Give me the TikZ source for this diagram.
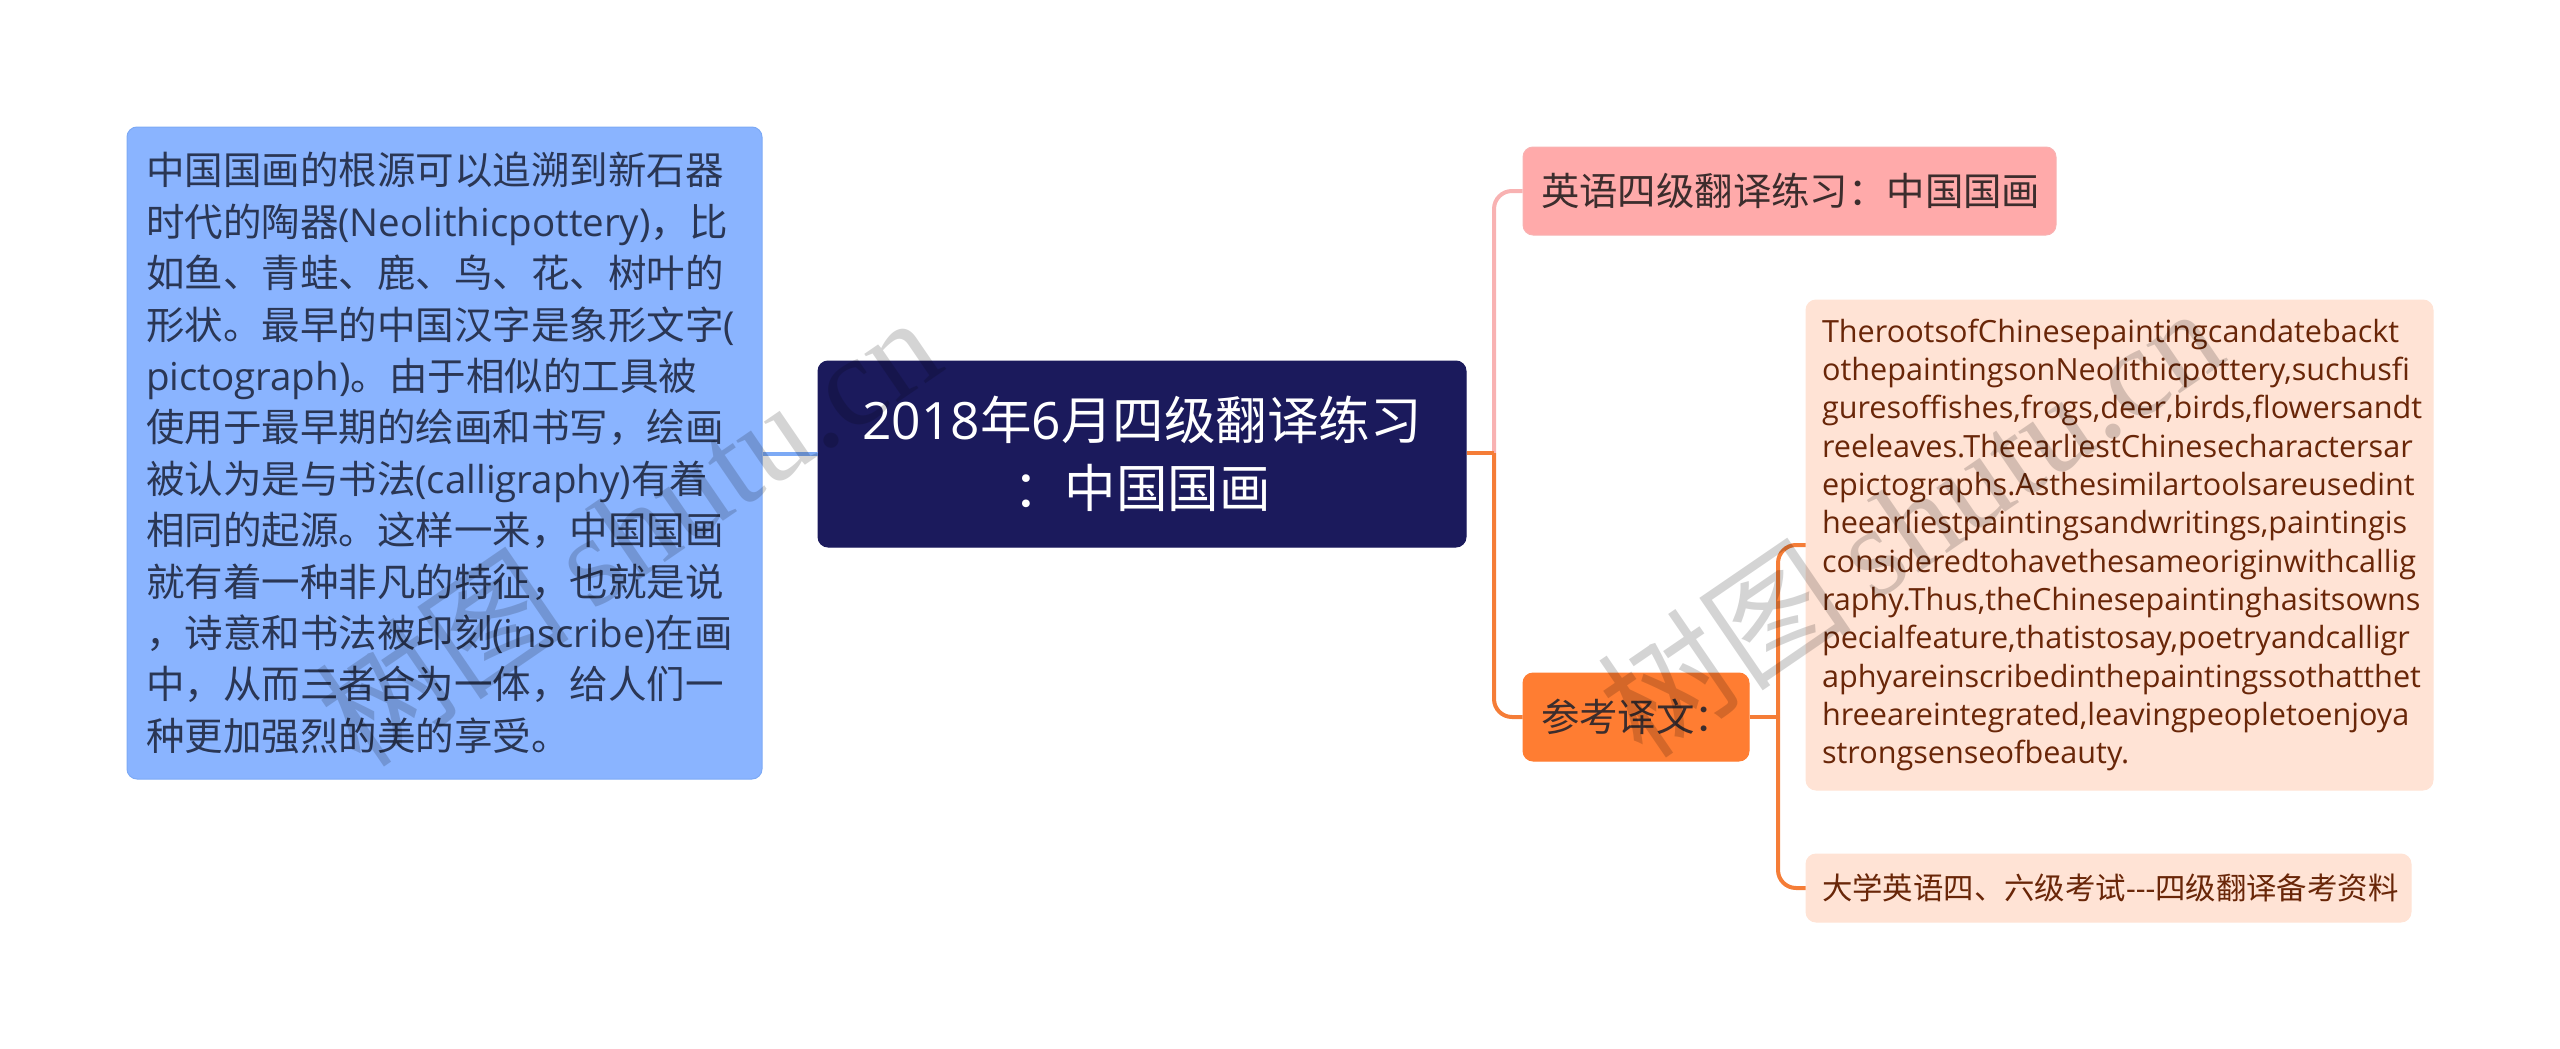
\documentclass[tikz,border=0pt]{standalone}
\usepackage{fontspec}
\usepackage{tikz}
\setmainfont{Noto Sans CJK SC}
\newfontfamily\latfont{Open Sans}
\newfontfamily\markfont{Liberation Serif}
\newcommand{\lat}[1]{{\latfont #1}}
\definecolor{leftfill}{RGB}{138,180,255}
\definecolor{leftline}{RGB}{125,170,245}
\definecolor{lefttext}{RGB}{42,54,84}
\definecolor{rootfill}{RGB}{27,26,92}
\definecolor{pinkfill}{RGB}{255,170,170}
\definecolor{pinkline}{RGB}{248,178,178}
\definecolor{orangefill}{RGB}{255,125,50}
\definecolor{orangeline}{RGB}{245,125,55}
\definecolor{peachfill}{RGB}{255,227,213}
\definecolor{peachtext}{RGB}{105,38,8}
\definecolor{darktext}{RGB}{60,45,45}
\newcommand{\watermark}[2]{\node[rotate=34.4,opacity=.17,text=black,font=\fontsize{128}{128}\selectfont] (#2) at (#1) {树图\hspace{25pt}{\markfont shutu.cn}};}
\tikzset{
  topic/.style={rectangle,rounded corners=10pt,draw=#1,line width=1pt,inner xsep=19pt,inner ysep=0pt,align=left},
  link/.style={line width=4pt,rounded corners=18pt}
}

\begin{document}
\begin{tikzpicture}[x=1pt,y=-1pt]
\useasboundingbox (0,0) rectangle (2560,1049);
\node[topic=leftline,fill=leftfill,text=lefttext,text width=597pt,minimum height=652pt,font=\fontsize{38.5}{51.4}\selectfont] (source) at (444.5,453) {中国国画的根源可以追溯到新石器\\
时代的陶器\lat{(Neolithicpottery)}，比\\
如鱼、青蛙、鹿、鸟、花、树叶的\\
形状。最早的中国汉字是象形文字\lat{(}\\
\lat{pictograph)}。由于相似的工具被\\
使用于最早期的绘画和书写，绘画\\
被认为是与书法\lat{(calligraphy)}有着\\
相同的起源。这样一来，中国国画\\
就有着一种非凡的特征，也就是说\\
，诗意和书法被印刻\lat{(inscribe)}在画\\
中，从而三者合为一体，给人们一\\
种更加强烈的美的享受。};
\node[topic=rootfill,fill=rootfill,text=white,text width=610pt,align=center,minimum height=186pt,font=\fontsize{51.5}{68}\selectfont] (root) at (1142,454) {\lat{2018}年\lat{6}月四级翻译练习\\：中国国画};
\node[topic=pinkline,fill=pinkfill,text=darktext,text width=497pt,minimum height=88pt,inner xsep=18pt,font=\fontsize{38.4}{51.4}\selectfont] (title) at (1789.5,191) {英语四级翻译练习：中国国画};
\node[topic=orangefill,fill=orangefill,text=darktext,text width=190pt,minimum height=88pt,inner xsep=18pt,font=\fontsize{38.4}{51.4}\selectfont] (answer) at (1636,717) {参考译文：};
\node[topic=peachfill,fill=peachfill,text=peachtext,inner xsep=16pt,text width=595pt,minimum height=490pt,font=\fontsize{30.6}{38.3}\selectfont\latfont] (english) at (2119.5,545) {Therootsof{}Chinesepaintingcandatebackt\\
othepaintingsonNeolithicpottery,suchusf{}i\\
guresof{}f{}ishes,frogs,deer,birds,f{}lowersandt\\
reeleaves.TheearliestChinesecharactersar\\
epictographs.Asthesimilartoolsareusedint\\
heearliestpaintingsandwritings,paintingis\\
consideredtohavethesameoriginwithcallig\\
raphy.Thus,theChinesepaintinghasitsowns\\
pecialfeature,thatistosay,poetryandcalligr\\
aphyareinscribedinthepaintingssothatthet\\
hreeareintegrated,leavingpeopletoenjoya\\
strongsenseofbeauty.};
\node[topic=peachfill,fill=peachfill,text=peachtext,inner xsep=16pt,text width=573pt,minimum height=68pt,font=\fontsize{30.4}{35.1}\selectfont] (exam) at (2108.5,888) {\mbox{大学英语四、六级考试\lat{---}四级翻译备考资料}};
\coordinate (fork) at (1494,453);
\coordinate (split) at (1778,717);
\draw[link,leftline] (source.east|-root.west) -- (root.west);
\draw[link,pinkline] (fork) |- (title.west);
\draw[link,orangeline] (root.east|-fork) -- (fork);
\draw[link,orangeline] (fork) |- (answer.west);
\draw[link,orangeline] (answer.east) -- (split);
\draw[link,orangeline] (split) |- (english.west);
\draw[link,orangeline] (split) |- (exam.west);
\watermark{627,529}{markone}
\watermark{1909,520}{marktwo}
\end{tikzpicture}
\end{document}
